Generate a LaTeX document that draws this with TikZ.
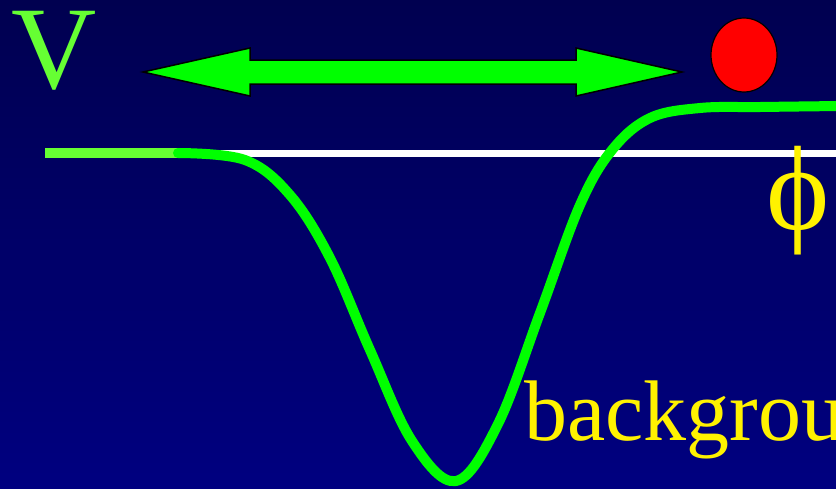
\documentclass[tikz,border=0pt]{standalone}
\usepackage{fontspec}
\setmainfont{Liberation Serif}
\begin{document}
\begin{tikzpicture}[x=1pt,y=-1pt,
  lbl/.style={inner sep=0pt,outer sep=0pt},
  curvegreen/.style={draw=green,line width=10pt,line cap=round,line join=round}]
\definecolor{bgtop}{RGB}{0,0,80}
\definecolor{bgbot}{RGB}{0,0,128}
\definecolor{lightgreen}{RGB}{102,255,51}
\definecolor{navgreen}{RGB}{0,255,0}
\useasboundingbox (0,0) rectangle (836,488);
\clip (0,0) rectangle (836,488);
\shade[top color=bgtop,bottom color=bgbot] (0,0) rectangle (836,488);
% white reference line
\draw[white,line width=7pt] (175,153) -- (836,153);
% left flat bar
\fill[lightgreen] (45,148) rectangle (180,158);
% potential curve
\draw[curvegreen,color=navgreen] plot[smooth,tension=0.6] coordinates {
 (178,153) (245,160) (290,195) (330,258) (370,350) (412,441)
 (456,481) (498,424) (540,313) (580,205)
 (612,150) (650,118) (700,108) (760,107) (840,106)};
% double arrow
\filldraw[fill=navgreen,draw=black,line width=1.5pt,line join=miter]
 (143,72) -- (250,48) -- (250,60) -- (576,60) -- (576,48) -- (682,72)
 -- (576,96) -- (576,84) -- (250,84) -- (250,96) -- cycle;
% red ball
\filldraw[fill=red,draw=black,line width=1.2pt] (744,55) ellipse [x radius=33,y radius=37];
% texts
\node[lbl,anchor=base west,text=lightgreen,font=\fontsize{118}{118}\selectfont] (V) at (11,88) {V};
\node[lbl,anchor=base,text=yellow,font=\fontsize{120}{120}\selectfont] (phi) at (798,229) {ϕ};
\node[lbl,anchor=base west,text=yellow,font=\fontsize{86}{86}\selectfont] (bg) at (524,440) {background};
\end{tikzpicture}
\end{document}
